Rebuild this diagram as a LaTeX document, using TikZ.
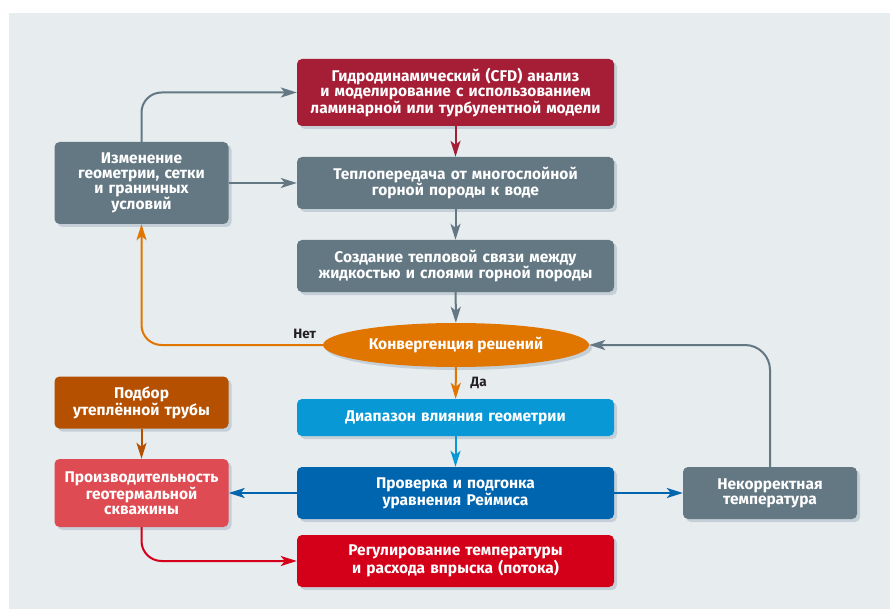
\documentclass[tikz,border=0pt]{standalone}
\usepackage{fontspec}
\setmainfont{Fira Sans}
\usetikzlibrary{arrows.meta,shapes.geometric,shadows}

\definecolor{bgcol}{HTML}{E7ECEF}
\definecolor{shcol}{HTML}{C4CFD7}
\definecolor{slate}{HTML}{647884}
\definecolor{wine}{HTML}{A51E36}
\definecolor{orng}{HTML}{E07500}
\definecolor{sky}{HTML}{0898D5}
\definecolor{navy}{HTML}{0065AF}
\definecolor{brwn}{HTML}{B45000}
\definecolor{rose}{HTML}{DE4B52}
\definecolor{scarlet}{HTML}{D4001A}
\definecolor{ink}{HTML}{231F20}

\begin{document}
\begin{tikzpicture}[x=1pt,y=-1pt,
  box/.style={rounded corners=5pt, text=white, align=center, inner sep=0pt,
    font=\bfseries\fontsize{15.5}{14.8}\selectfont,
    drop shadow={shadow xshift=3pt,shadow yshift=-3pt,fill=shcol,opacity=1}},
  wide/.style={box, text width=317pt, minimum height=52pt},
  narrow/.style={box, text width=174pt, minimum height=52pt},
  conn/.style={line width=2pt, -{Stealth[length=16pt,width=10pt,inset=4pt]}},
  lbl/.style={text=ink, inner sep=0pt, font=\bfseries\fontsize{13.5}{14}\selectfont}]
  \useasboundingbox (0,0) rectangle (890,609);
  \fill[bgcol] (9,13) rectangle (890,609);

  % main column
  \node[wide, fill=wine, minimum height=67pt] (cfd) at (455.5,92.5) {Гидродинамический (CFD) анализ\\и моделирование с использованием\\ламинарной или турбулентной модели};
  \node[wide, fill=slate] (teplo) at (455.5,183) {Теплопередача от многослойной\\горной породы к воде};
  \node[wide, fill=slate] (sozd) at (455.5,266) {Создание тепловой связи между\\жидкостью и слоями горной породы};
  \node[box, ellipse, fill=orng, minimum width=266pt, minimum height=44pt] (konv) at (456,345) {Конвергенция решений};
  \node[wide, fill=sky, minimum height=37pt] (diap) at (455.5,417.5) {Диапазон влияния геометрии};
  \node[wide, fill=navy] (prov) at (455.5,493) {Проверка и подгонка\\уравнения Реймиса};
  \node[wide, fill=scarlet] (reg) at (455.5,561) {Регулирование температуры\\и расхода впрыска (потока)};

  % side boxes
  \node[narrow, fill=slate, minimum height=82pt] (izm) at (141.5,183) {Изменение\\геометрии, сетки\\и граничных\\условий};
  \node[narrow, fill=brwn] (podb) at (141.5,402.5) {Подбор\\утеплённой трубы};
  \node[narrow, fill=rose, minimum height=68pt] (proizv) at (141.5,493) {Производительность\\геотермальной\\скважины};
  \node[narrow, fill=slate] (nekor) at (770,493) {Некорректная\\температура};

  \draw[conn, slate, rounded corners=20pt] (izm.north) |- (cfd.west);
  \draw[conn, slate] (izm.east) -- (teplo.west);
  \draw[conn, wine] (cfd) -- (teplo);
  \draw[conn, slate] (teplo) -- (sozd);
  \draw[conn, slate] (sozd) -- (konv);
  \draw[conn, orng, rounded corners=20pt] (konv.west) -| node[pos=0.05, above=5pt, lbl] {Нет} (izm.south);
  \draw[conn, orng] (konv) -- node[right=14pt, lbl] {Да} (diap);
  \draw[conn, sky] (diap) -- (prov);
  \draw[conn, navy] (prov.west) -- (proizv.east);
  \draw[conn, navy] (prov.east) -- (nekor.west);
  \draw[conn, slate, rounded corners=25pt] (nekor.north) |- (konv.east);
  \draw[conn, brwn] (podb) -- (proizv);
  \draw[conn, scarlet, rounded corners=20pt] (proizv.south) |- (reg.west);
\end{tikzpicture}
\end{document}
